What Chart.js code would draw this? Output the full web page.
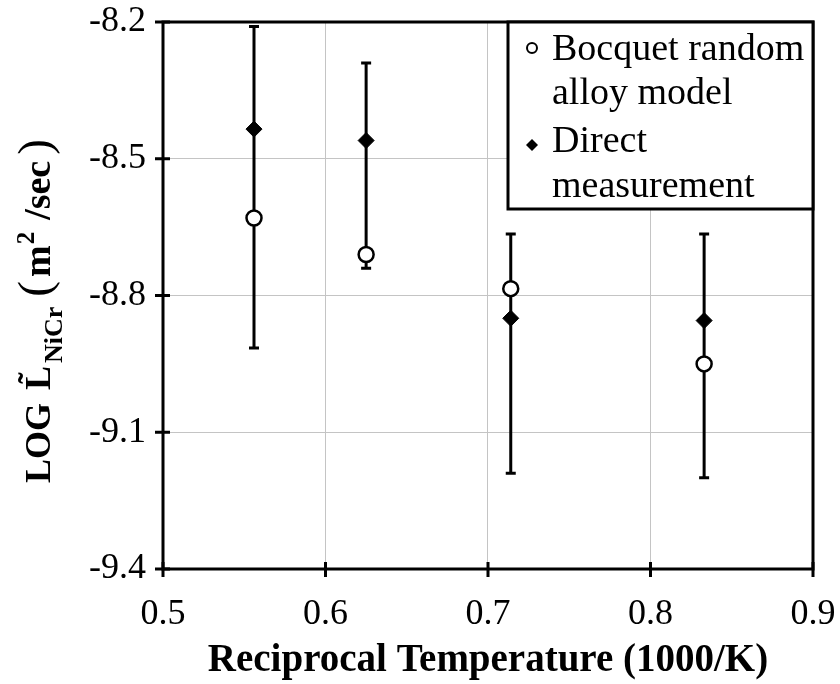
<!DOCTYPE html>
<html>
<head>
<meta charset="utf-8">
<script src="https://cdn.jsdelivr.net/npm/chart.js@4.4.1/dist/chart.umd.min.js"></script>
<style>
  html, body { margin: 0; padding: 0; background: #fff; }
  #wrap { width: 840px; height: 684px; }
</style>
</head>
<body>
<div id="wrap"><canvas id="c"></canvas></div>
<script>
// reciprocal temperature (1000/K) for 1800, 1600, 1400, 1200 K
const recipTemp = [0.556, 0.625, 0.714, 0.833];
const modelLog = [-8.63, -8.71, -8.785, -8.95];
const directLog = [-8.435, -8.46, -8.85, -8.855];
// error bar extents for the direct measurements
const errTop = [-8.21, -8.29, -8.665, -8.665];
const errBottom = [-8.915, -8.74, -9.19, -9.2];

const xTicks = [0.5, 0.6, 0.7, 0.8, 0.9];
const yTicks = [-9.4, -9.1, -8.8, -8.5, -8.2];

const seriesNames = ['Bocquet random alloy model', 'Direct measurement'];
const legendLines = [['Bocquet random', 'alloy model'], ['Direct', 'measurement']];
const xTitle = 'Reciprocal Temperature (1000/K)';

const SERIF = '"Liberation Serif", "Times New Roman", serif';

// y title pieces, drawn one after another along the rotated baseline
const yTitleParts = [
  { text: 'LOG', font: 'bold 36px ' + SERIF, dy: 0, gap: 13 },
  { text: 'L', font: 'bold 36px ' + SERIF, dy: 0, gap: 3, tilde: true },
  { text: 'NiCr', font: 'bold 26px ' + SERIF, dy: 12, gap: 10 },
  { text: '(', font: '47px ' + SERIF, dy: 0, gap: 4 },
  { text: 'm', font: 'bold 38px ' + SERIF, dy: 0, gap: 1 },
  { text: '2', font: 'bold 25px ' + SERIF, dy: -16, gap: 12 },
  { text: '/sec', font: 'bold 38px ' + SERIF, dy: 0, gap: 6 },
  { text: ')', font: '47px ' + SERIF, dy: 0, gap: 0 }
];

const errorBars = {
  id: 'errorBars',
  beforeDatasetsDraw(chart) {
    const { ctx, scales: { x, y } } = chart;
    ctx.save();
    ctx.strokeStyle = '#000';
    ctx.lineWidth = 3;
    recipTemp.forEach((t, i) => {
      const px = x.getPixelForValue(t);
      const y1 = y.getPixelForValue(errTop[i]);
      const y2 = y.getPixelForValue(errBottom[i]);
      ctx.beginPath();
      ctx.moveTo(px, y1); ctx.lineTo(px, y2);
      ctx.moveTo(px - 5, y1); ctx.lineTo(px + 5, y1);
      ctx.moveTo(px - 5, y2); ctx.lineTo(px + 5, y2);
      ctx.stroke();
    });
    ctx.restore();
  }
};

const frame = {
  id: 'frame',
  beforeDatasetsDraw(chart) {
    const { ctx, chartArea: a, scales: { x, y } } = chart;
    ctx.save();
    ctx.strokeStyle = '#000';
    ctx.lineWidth = 3;
    ctx.strokeRect(a.left, a.top, a.right - a.left, a.bottom - a.top);
    ctx.beginPath();
    xTicks.forEach(v => {
      const px = x.getPixelForValue(v);
      ctx.moveTo(px, a.bottom - 7); ctx.lineTo(px, a.bottom + 8);
    });
    yTicks.forEach(v => {
      const py = y.getPixelForValue(v);
      ctx.moveTo(a.left - 8, py); ctx.lineTo(a.left + 7, py);
    });
    ctx.stroke();
    ctx.restore();
  }
};

const boxLegend = {
  id: 'boxLegend',
  afterDraw(chart) {
    const { ctx, chartArea: a } = chart;
    const left = 508, top = a.top, right = a.right, bottom = 209;
    ctx.save();
    ctx.fillStyle = '#fff';
    ctx.fillRect(left, top, right - left, bottom - top);
    ctx.strokeStyle = '#000';
    ctx.lineWidth = 3;
    ctx.strokeRect(left, top, right - left, bottom - top);
    ctx.font = '38px ' + SERIF;
    ctx.fillStyle = '#000';
    ctx.textBaseline = 'alphabetic';
    const baselines = [[60, 104], [152, 197]];
    legendLines.forEach((lines, s) => {
      lines.forEach((ln, k) => ctx.fillText(ln, 552, baselines[s][k]));
    });
    // markers
    ctx.lineWidth = 2;
    ctx.beginPath();
    ctx.arc(532, 48, 5, 0, Math.PI * 2);
    ctx.stroke();
    ctx.beginPath();
    ctx.moveTo(532, 139); ctx.lineTo(538, 145); ctx.lineTo(532, 151); ctx.lineTo(526, 145);
    ctx.closePath();
    ctx.fill();
    ctx.restore();
  }
};

const yTitle = {
  id: 'yTitle',
  afterDraw(chart) {
    const { ctx } = chart;
    ctx.save();
    ctx.translate(50, 483);
    ctx.rotate(-Math.PI / 2);
    ctx.fillStyle = '#000';
    ctx.textBaseline = 'alphabetic';
    let rx = 0;
    yTitleParts.forEach(p => {
      ctx.font = p.font;
      const w = ctx.measureText(p.text).width;
      ctx.fillText(p.text, rx, p.dy);
      if (p.tilde) {
        ctx.font = 'bold 34px ' + SERIF;
        ctx.textAlign = 'center';
        ctx.fillText('\u02DC', rx + w / 2, p.dy - 8);
        ctx.textAlign = 'left';
      }
      rx += w + p.gap;
    });
    ctx.restore();
  }
};

new Chart(document.getElementById('c'), {
  type: 'scatter',
  data: {
    datasets: [
      {
        label: seriesNames[0],
        data: recipTemp.map((t, i) => ({ x: t, y: modelLog[i] })),
        pointStyle: 'circle',
        pointRadius: 7.5,
        borderWidth: 2.5,
        borderColor: '#000',
        backgroundColor: '#fff'
      },
      {
        label: seriesNames[1],
        data: recipTemp.map((t, i) => ({ x: t, y: directLog[i] })),
        pointStyle: 'rectRot',
        pointRadius: 8,
        borderWidth: 1,
        borderColor: '#000',
        backgroundColor: '#000'
      }
    ]
  },
  options: {
    responsive: true,
    maintainAspectRatio: false,
    animation: false,
    layout: { padding: { top: 22, right: 27, left: 0, bottom: 0 } },
    scales: {
      x: {
        type: 'linear',
        min: 0.5,
        max: 0.9,
        afterBuildTicks: s => { s.ticks = xTicks.map(v => ({ value: v })); },
        afterFit: s => {
          s.height = 115;
          s.paddingLeft = 0;
          s.paddingRight = 0;
        },
        grid: { color: '#c4c4c4', lineWidth: 1, drawTicks: false },
        border: { display: false },
        ticks: {
          color: '#000',
          padding: 24,
          font: { family: SERIF, size: 36 },
          callback: v => v.toFixed(1)
        },
        title: {
          display: true,
          text: xTitle,
          color: '#000',
          font: { family: SERIF, size: 39, weight: 'bold' },
          padding: { top: 0, bottom: 0 }
        }
      },
      y: {
        type: 'linear',
        min: -9.4,
        max: -8.2,
        afterBuildTicks: s => { s.ticks = yTicks.map(v => ({ value: v })); },
        afterFit: s => {
          s.width = 163;
          s.paddingTop = 0;
          s.paddingBottom = 0;
        },
        grid: { color: '#c4c4c4', lineWidth: 1, drawTicks: false },
        border: { display: false },
        ticks: {
          color: '#000',
          padding: 17,
          font: { family: SERIF, size: 36 },
          callback: v => v.toFixed(1)
        }
      }
    },
    plugins: {
      legend: { display: false },
      tooltip: { enabled: false }
    }
  },
  plugins: [frame, errorBars, boxLegend, yTitle]
});
</script>
</body>
</html>
